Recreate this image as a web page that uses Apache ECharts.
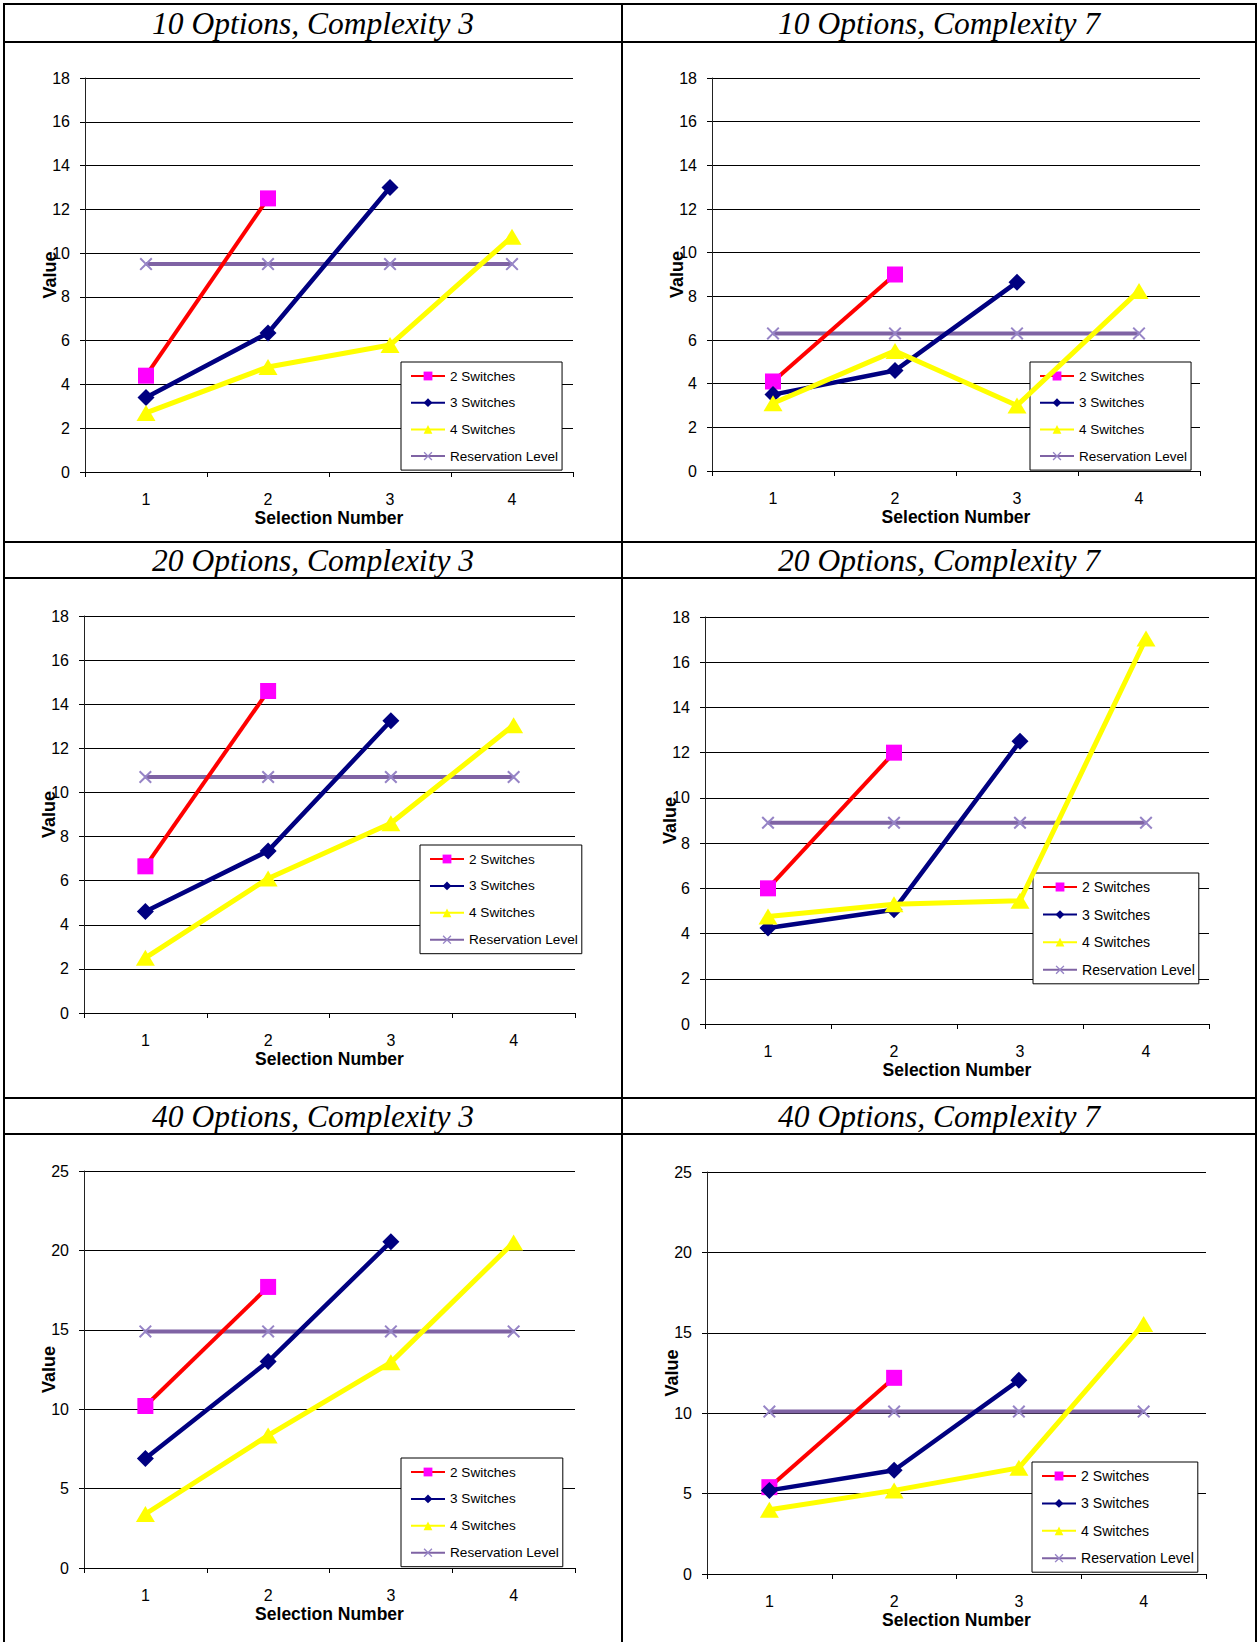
<!DOCTYPE html>
<html>
<head>
<meta charset="utf-8">
<script src="https://cdn.jsdelivr.net/npm/echarts@6/dist/echarts.min.js"></script>
<style>
html,body{margin:0;padding:0;background:#fff;}
#c{width:1258px;height:1642px;}
</style>
</head>
<body>
<div id="c"></div>
<script>
// ---------- DATA ----------
const categories = ['1', '2', '3', '4'];
const seriesNames = ['2 Switches', '3 Switches', '4 Switches', 'Reservation Level'];
const panelTitles = [
  '10 Options, Complexity 3', '10 Options, Complexity 7',
  '20 Options, Complexity 3', '20 Options, Complexity 7',
  '40 Options, Complexity 3', '40 Options, Complexity 7'
];
// y-axis tick setups
const yTicksSmall = { max: 18, interval: 2 };
const yTicksLarge = { max: 25, interval: 5 };

// 10 Options, Complexity 3
const o10c3_sw2 = [4.4, 12.5];
const o10c3_sw3 = [3.4, 6.35, 13.0];
const o10c3_sw4 = [2.7, 4.8, 5.8, 10.75];
const o10c3_res = [9.5, 9.5, 9.5, 9.5];
// 10 Options, Complexity 7
const o10c7_sw2 = [4.1, 9.0];
const o10c7_sw3 = [3.5, 4.6, 8.65];
const o10c7_sw4 = [3.1, 5.5, 3.0, 8.25];
const o10c7_res = [6.3, 6.3, 6.3, 6.3];
// 20 Options, Complexity 3
const o20c3_sw2 = [6.65, 14.6];
const o20c3_sw3 = [4.6, 7.35, 13.25];
const o20c3_sw4 = [2.5, 6.1, 8.6, 13.05];
const o20c3_res = [10.7, 10.7, 10.7, 10.7];
// 20 Options, Complexity 7
const o20c7_sw2 = [6.0, 12.0];
const o20c7_sw3 = [4.25, 5.05, 12.5];
const o20c7_sw4 = [4.75, 5.3, 5.45, 17.05];
const o20c7_res = [8.9, 8.9, 8.9, 8.9];
// 40 Options, Complexity 3
const o40c3_sw2 = [10.2, 17.7];
const o40c3_sw3 = [6.9, 13.0, 20.55];
const o40c3_sw4 = [3.4, 8.35, 12.95, 20.5];
const o40c3_res = [14.9, 14.9, 14.9, 14.9];
// 40 Options, Complexity 7
const o40c7_sw2 = [5.4, 12.2];
const o40c7_sw3 = [5.2, 6.45, 12.05];
const o40c7_sw4 = [4.0, 5.2, 6.6, 15.55];
const o40c7_res = [10.1, 10.1, 10.1, 10.1];

const panelData = [
  [o10c3_sw2, o10c3_sw3, o10c3_sw4, o10c3_res],
  [o10c7_sw2, o10c7_sw3, o10c7_sw4, o10c7_res],
  [o20c3_sw2, o20c3_sw3, o20c3_sw4, o20c3_res],
  [o20c7_sw2, o20c7_sw3, o20c7_sw4, o20c7_res],
  [o40c3_sw2, o40c3_sw3, o40c3_sw4, o40c3_res],
  [o40c7_sw2, o40c7_sw3, o40c7_sw4, o40c7_res]
];
const panelTicks = [yTicksSmall, yTicksSmall, yTicksSmall, yTicksSmall, yTicksLarge, yTicksLarge];

// ---------- LAYOUT / STYLE ----------
const SANS = '"Liberation Sans", Arial, sans-serif';
const SERIF = '"Liberation Serif", "Times New Roman", serif';
const grids = [
  { left: 85, top: 78, width: 488, height: 394 },
  { left: 712, top: 78, width: 488, height: 393 },
  { left: 84, top: 616, width: 491, height: 397 },
  { left: 705, top: 617, width: 504, height: 407 },
  { left: 84, top: 1171, width: 491, height: 397 },
  { left: 707, top: 1172, width: 499, height: 402 }
];
const legends = [
  { left: 401, top: 362, font: 13.5, gap: 12.7 },
  { left: 1030, top: 362, font: 13.5, gap: 12.7 },
  { left: 420, top: 845, font: 13.6, gap: 12.9 },
  { left: 1033, top: 873, font: 14.1, gap: 13.6 },
  { left: 401, top: 1458, font: 13.6, gap: 12.9 },
  { left: 1032, top: 1462, font: 14.1, gap: 13.4 }
];
const titlePos = [
  { x: 313, y: 23 }, { x: 939, y: 23 },
  { x: 313, y: 560 }, { x: 939, y: 560 },
  { x: 313, y: 1116 }, { x: 939, y: 1116 }
];
const XPATH = 'path://M0,1.3L1.3,0L6,4.7L10.7,0L12,1.3L7.3,6L12,10.7L10.7,12L6,7.3L1.3,12L0,10.7L4.7,6Z';
const seriesStyles = [
  { symbol: 'rect', symbolSize: 16, line: '#FF0000', width: 4, fill: '#FF00FF' },
  { symbol: 'diamond', symbolSize: [17, 17], line: '#000080', width: 4.5, fill: '#000080' },
  { symbol: 'triangle', symbolSize: [19, 16], line: '#FFFF00', width: 5, fill: '#FFFF00' },
  { symbol: XPATH, symbolSize: 13, line: '#7F63A4', width: 4, fill: '#9684C6' }
];
const seriesZ = [3, 4, 5, 2];

const option = {
  animation: false,
  backgroundColor: '#fff',
  grid: grids.map(g => Object.assign({ containLabel: false }, g)),
  xAxis: grids.map((g, i) => ({
    type: 'category', gridIndex: i, data: categories, boundaryGap: true,
    axisLine: { show: true, lineStyle: { color: '#000', width: 1 } },
    axisTick: { show: true, length: 5, inside: false, lineStyle: { color: '#000', width: 1 } },
    axisLabel: { margin: 19, fontSize: 16, color: '#000', fontFamily: SANS },
    splitLine: { show: false },
    name: 'Selection Number', nameLocation: 'middle', nameGap: 37, nameMoveOverlap: false,
    nameTextStyle: { fontWeight: 'bold', fontSize: 17.5, color: '#000', fontFamily: SANS }
  })),
  yAxis: grids.map((g, i) => ({
    type: 'value', gridIndex: i, min: 0, max: panelTicks[i].max, interval: panelTicks[i].interval,
    axisLine: { show: true, lineStyle: { color: '#222', width: 1 } },
    axisTick: { show: true, length: 5, inside: false, lineStyle: { color: '#000', width: 1 } },
    axisLabel: { margin: 15, fontSize: 16, color: '#000', fontFamily: SANS },
    splitLine: { show: true, lineStyle: { color: '#000', width: 1 } },
    name: 'Value', nameLocation: 'middle', nameGap: 26, nameMoveOverlap: false,
    nameTextStyle: { fontWeight: 'bold', fontSize: 18, color: '#000', fontFamily: SANS }
  })),
  legend: legends.map(l => ({
    show: true, orient: 'vertical', left: l.left, top: l.top,
    data: seriesNames, selectedMode: false,
    borderColor: '#000', borderWidth: 1, backgroundColor: '#fff',
    padding: [7, 4, 7, 9], itemGap: l.gap, itemWidth: 34, itemHeight: 11,
    textStyle: { fontFamily: SANS, fontSize: l.font, color: '#000' },
    lineStyle: { width: 2 }
  })),
  series: [],
  graphic: []
};

panelData.forEach((arrs, p) => {
  // reservation level first so the others sit on top of it
  [3, 0, 1, 2].forEach(k => {
    const st = seriesStyles[k];
    option.series.push({
      name: seriesNames[k], type: 'line', xAxisIndex: p, yAxisIndex: p,
      data: arrs[k], symbol: st.symbol, symbolSize: st.symbolSize, showAllSymbol: true,
      lineStyle: { color: st.line, width: st.width },
      itemStyle: { color: st.fill, borderWidth: 0 },
      emphasis: { disabled: true }, z: seriesZ[k], silent: true
    });
  });
});

// table frame
const hLines = [4, 42, 542, 578, 1098, 1134];
const vLines = [4, 622, 1256];
hLines.forEach(y => option.graphic.push({
  type: 'line', silent: true, z: 100,
  shape: { x1: 3, y1: y, x2: 1257, y2: y }, style: { stroke: '#000', lineWidth: 2 }
}));
vLines.forEach(x => option.graphic.push({
  type: 'line', silent: true, z: 100,
  shape: { x1: x, y1: 3, x2: x, y2: 1642 }, style: { stroke: '#000', lineWidth: 2 }
}));
panelTitles.forEach((t, i) => option.graphic.push({
  type: 'text', silent: true, z: 100, x: titlePos[i].x, y: titlePos[i].y,
  style: { text: t, font: 'italic 31.5px ' + SERIF, fill: '#000', align: 'center', verticalAlign: 'middle' }
}));

const chart = echarts.init(document.getElementById('c'), null, { renderer: 'svg', width: 1258, height: 1642 });
chart.setOption(option);
</script>
</body>
</html>
